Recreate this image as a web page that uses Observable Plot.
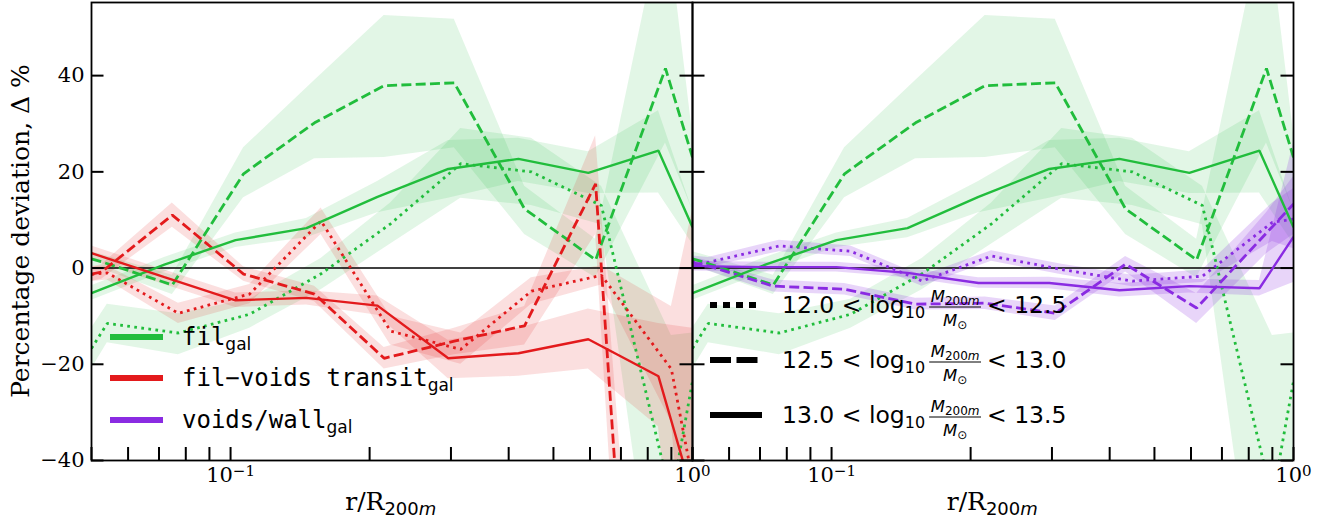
<!DOCTYPE html>
<html>
<head>
<meta charset="utf-8">
<script src="https://cdn.jsdelivr.net/npm/d3@7"></script>
<script src="https://cdn.jsdelivr.net/npm/@observablehq/plot@0.6"></script>
<style>
  body { margin: 0; background: #fff; }
  #chart { position: relative; width: 1332px; height: 521px; }
</style>
</head>
<body>
<div id="chart"></div>
<script>
// ---- x positions (r / R200m) of each mass bin ----
const xSolid  = [0.05, 0.0719, 0.1025, 0.146, 0.208, 0.296, 0.420, 0.595, 0.844, 1.0];
const xDashed = [0.05, 0.0526, 0.0748, 0.1067, 0.152, 0.215, 0.305, 0.433, 0.617, 0.874, 1.0];
const xDotted = [0.05, 0.0541, 0.0771, 0.110, 0.157, 0.222, 0.315, 0.448, 0.635, 0.900, 1.0];
const xDashedTrans = [0.05, 0.0526, 0.0748, 0.1067, 0.152, 0.215, 0.305, 0.433, 0.617, 0.874];

// ---- fil_gal (green) ----
const filSolid    = [-5.2, 0.7, 5.8, 8.3, 14.8, 20.6, 22.7, 19.8, 24.4, 8.5];
const filSolidLo  = [-6.7, -0.8, 4.3, 6.3, 11.5, 14.5, 18, 15.5, 15.6, 5];
const filSolidHi  = [-3.7, 2.2, 7.3, 10.3, 18, 26.5, 27, 24.2, 32.7, 12];
const filDashed   = [1.9, 1.3, -3.5, 19.6, 30.2, 37.9, 38.5, 12.3, 1.7, 41.5, 23];
const filDashedLo = [0.4, -0.2, -5.5, 14.6, 22.7, 23, 25, 7, -2, 26, 12];
const filDashedHi = [3.4, 2.8, -1.5, 25, 39, 52.5, 51.7, 17, 6, 75, 28];
const filDotted   = [-16.7, -11.5, -13.5, -9.6, -1.2, 9.2, 21.7, 20.0, 13.0, -48, -23.5];
const filDottedLo = [-21, -15.5, -18, -12.5, -4.5, 5, 14.5, 13, 9, -95, -80];
const filDottedHi = [-12.5, -7.5, -9.5, -6.5, 2, 13.5, 29, 27, 17, -14, -13.5];

// ---- fil-voids transit_gal (red) ----
const trSolid    = [3.1, -1.9, -6.7, -6.2, -7.8, -18.75, -17.7, -14.8, -22.5, -47];
const trSolidLo  = [1.6, -3.4, -8.2, -7.7, -9.8, -23, -22.5, -21, -33, -100];
const trSolidHi  = [4.6, -0.4, -5.2, -4.7, -5.8, -15, -12.5, -8.5, -11.5, -12.5];
const trDashed   = [-1.25, -0.8, 11.0, -1.25, -5.4, -18.75, -15.2, -12, 17.5, -195];
const trDashedLo = [-2.75, -2.3, 8.5, -2.75, -7, -21, -18, -16, 7, -230];
const trDashedHi = [0.25, 0.7, 13.5, 0.25, -3.8, -16.5, -12.5, -8, 27.5, -160];
const trDotted   = [-1.3, -1.0, -9.4, -5.4, 9.8, -13.1, -16.9, -4.8, -1.5, -21, -44];
const trDottedLo = [-2.8, -2.5, -11.5, -7.4, 7, -16, -20, -7.5, -3.5, -32, -80];
const trDottedHi = [0.2, 0.5, -7.3, -3.4, 12.5, -10, -13.5, -2, 0.5, -8, 12];

// ---- voids/wall_gal (purple) ----
const vwSolid    = [0.4, 0.2, 0.2, -1.0, -3.1, -3.1, -4.6, -3.75, -4.2, 6.5];
const vwSolidLo  = [-0.6, -0.8, -0.8, -2, -4.2, -4.3, -6, -5.2, -5.8, -3];
const vwSolidHi  = [1.4, 1.2, 1.2, 0, -2, -1.9, -3.2, -2.3, -2.6, 26];
const vwDashed   = [1.0, 0.8, -3.75, -4.4, -7.5, -7.3, -9.4, 0.8, -8.3, 7.3, 13.3];
const vwDashedLo = [0, -0.2, -5, -5.6, -8.7, -8.6, -10.9, -0.8, -11.5, 3, 7];
const vwDashedHi = [2, 1.8, -2.5, -3.2, -6.3, -6, -7.9, 2.4, -5.3, 11.5, 19];
const vwDotted   = [1.5, 1.2, 4.6, 3.5, -2.7, 2.5, -0.3, -2.7, -1.7, 9.5, 10.2];
const vwDottedLo = [0.5, 0.2, 3.4, 2.4, -3.8, 1.4, -1.4, -3.9, -3, 5.5, 4];
const vwDottedHi = [2.5, 2.2, 5.8, 4.6, -1.6, 3.6, 0.8, -1.5, -0.4, 13.5, 16.5];

// ---- axis ticks ----
const yTicks = [-40, -20, 0, 20, 40];
const xTicks = [0.05, 0.06, 0.07, 0.08, 0.09, 0.1, 0.2, 0.3, 0.4, 0.5, 0.6, 0.7, 0.8, 0.9, 1.0];
const xTickLabels = [0.1, 1];
const massBins = [["12.0", "12.5", "dotted"], ["12.5", "13.0", "dashed"], ["13.0", "13.5", "solid"]];

const colors = {fil: "#21bd3c", trans: "#e31a1c", void: "#8a2be2"};
const opac = {fil: 0.13, trans: 0.14, void: 0.2};
const dashes = {solid: null, dashed: "10,4.3", dotted: "2.7,4.4"};
const widths = {solid: 2.4, dashed: 2.8, dotted: 2.8};

function rows(panel, group, style, xs, ys, lo, hi) {
  return xs.map((x, i) => ({panel, group, style, key: panel + group + style, x, y: ys[i], lo: lo[i], hi: hi[i]}));
}
const data = [];
for (const p of ["left", "right"]) {
  data.push(...rows(p, "fil", "solid", xSolid, filSolid, filSolidLo, filSolidHi));
  data.push(...rows(p, "fil", "dashed", xDashed, filDashed, filDashedLo, filDashedHi));
  data.push(...rows(p, "fil", "dotted", xDotted, filDotted, filDottedLo, filDottedHi));
}
data.push(...rows("left", "trans", "solid", xSolid, trSolid, trSolidLo, trSolidHi));
data.push(...rows("left", "trans", "dashed", xDashedTrans, trDashed, trDashedLo, trDashedHi));
data.push(...rows("left", "trans", "dotted", xDotted, trDotted, trDottedLo, trDottedHi));
data.push(...rows("right", "void", "solid", xSolid, vwSolid, vwSolidLo, vwSolidHi));
data.push(...rows("right", "void", "dashed", xDashed, vwDashed, vwDashedLo, vwDashedHi));
data.push(...rows("right", "void", "dotted", xDotted, vwDotted, vwDottedLo, vwDottedHi));

const W = 1332, H = 521, ML = 90, MR = 39, MT = 2, MB = 61;
const facetW = (W - ML - MR) / 2, frameH = H - MT - MB, tickLen = 13;

const bandMarks = ["fil", "trans", "void"].map(g =>
  Plot.areaY(data.filter(d => d.group === g), {
    x: "x", y1: "lo", y2: "hi", z: "key", fx: "panel",
    fill: colors[g], fillOpacity: opac[g], clip: true
  }));
const lineMarks = ["dotted", "dashed", "solid"].map(s =>
  Plot.line(data.filter(d => d.style === s), {
    x: "x", y: "y", z: "key", fx: "panel",
    stroke: d => colors[d.group], strokeWidth: widths[s],
    strokeDasharray: dashes[s], strokeLinecap: "butt", strokeLinejoin: "miter", clip: true
  }));

const expo = d => String(Math.round(Math.log10(d))).replace("-", "\u2212");
const svgEl = Plot.plot({
  width: W, height: H, marginLeft: ML, marginRight: MR, marginTop: MT, marginBottom: MB,
  x: {type: "log", domain: [0.05, 1], label: null},
  y: {domain: [-40, 55.2], label: null},
  fx: {domain: ["left", "right"], padding: 0, axis: null, label: null},
  color: {type: "identity"},
  style: {fontFamily: "DejaVu Serif", fontSize: "21px", background: "white", overflow: "visible", color: "black"},
  marks: [
    ...bandMarks,
    Plot.ruleY([0], {stroke: "black", strokeWidth: 1.6}),
    ...lineMarks,
    Plot.frame({stroke: "black", strokeWidth: 1.8}),
    Plot.tickX(xTicks, {x: d => d, insetTop: frameH - tickLen, stroke: "black", strokeWidth: 2}),
    Plot.tickY(yTicks, {y: d => d, insetRight: facetW - tickLen, stroke: "black", strokeWidth: 2}),
    Plot.tickY(yTicks, {y: d => d, insetLeft: facetW - tickLen, stroke: "black", strokeWidth: 2}),
    Plot.axisY({ticks: yTicks, tickSize: 0, tickPadding: 7, fontSize: 21, fontFamily: "DejaVu Serif", label: null, tickFormat: d => d3.format("d")(d)}),
    Plot.axisX({ticks: xTickLabels, tickSize: 0, tickPadding: 7, fontSize: 21, fontFamily: "DejaVu Serif", label: null,
      tickFormat: d => "10^" + expo(d)})
  ]
});
document.getElementById("chart").appendChild(svgEl);

const svg = d3.select(svgEl);
// render the exponent of the x tick labels as a real superscript
svg.selectAll('g[aria-label="x-axis tick label"] text').each(function() {
  const s = this.textContent;
  if (!s.startsWith("10^")) return;
  const e = s.slice(3);
  const t = d3.select(this);
  t.text("10");
  t.append("tspan").attr("dy", "-0.42em").style("font-size", "15px").text(e);
});

// ---- annotations: axis titles and legends (real text) ----
const g = svg.append("g").attr("text-anchor", "start");

g.append("text")
  .attr("transform", "translate(20,231) rotate(-90)")
  .attr("text-anchor", "middle").attr("dominant-baseline", "central")
  .style("font-family", "DejaVu Serif").style("font-size", "25px").attr("fill", "black")
  .text("Percentage deviation, \u0394 %");

for (const cx of [ML + facetW / 2, ML + facetW * 1.5]) {
  const t = g.append("text").attr("x", cx).attr("y", 510).attr("text-anchor", "middle")
    .style("font-family", "DejaVu Serif").style("font-size", "25px").attr("fill", "black");
  t.append("tspan").text("r/R");
  t.append("tspan").attr("dy", 5).style("font-family", "DejaVu Sans").style("font-size", "18px").text("200");
  t.append("tspan").style("font-family", "DejaVu Sans").style("font-style", "italic").style("font-size", "18px").text("m");
}

// left legend: environments
const envLegend = [
  ["fil", "fil", 337],
  ["trans", "fil\u2212voids transit", 378],
  ["void", "voids/wall", 420]
];
for (const [grp, label, y] of envLegend) {
  g.append("line").attr("x1", 110).attr("x2", 163).attr("y1", y).attr("y2", y)
    .attr("stroke", colors[grp]).attr("stroke-width", 6);
  const t = g.append("text").attr("x", 182).attr("y", y + 8).attr("fill", "black").attr("text-anchor", "start")
    .style("font-family", "DejaVu Sans Mono").style("font-size", "24px");
  t.append("tspan").text(label);
  t.append("tspan").attr("dy", 5).style("font-family", "DejaVu Sans").style("font-size", "17px").text("gal");
}

// right legend: halo mass bins
const sampleDash = {dotted: "7,6", dashed: "21,5.5", solid: null};
massBins.forEach(([lo, hi, style], i) => {
  const base = 313 + i * 55;
  g.append("line").attr("x1", 710).attr("x2", 762).attr("y1", base - 8).attr("y2", base - 8)
    .attr("stroke", "black").attr("stroke-width", 6).attr("stroke-dasharray", sampleDash[style]);
  const t = g.append("text").attr("x", 782).attr("y", base).attr("fill", "black").attr("text-anchor", "start")
    .style("font-family", "DejaVu Sans").style("font-size", "23.5px");
  t.append("tspan").text(`${lo} < log`);
  t.append("tspan").attr("dy", 5).style("font-size", "16px").text("10");
  const w = t.node().getComputedTextLength();
  const fx0 = 782 + w + 4;
  const num = g.append("text").attr("y", base - 11).attr("fill", "black").attr("text-anchor", "start").style("font-family", "DejaVu Sans");
  num.append("tspan").style("font-style", "italic").style("font-size", "16.5px").text("M");
  num.append("tspan").attr("dy", 3).style("font-size", "12px").text("200");
  num.append("tspan").style("font-style", "italic").style("font-size", "12px").text("m");
  const den = g.append("text").attr("y", base + 13).attr("fill", "black").attr("text-anchor", "start").style("font-family", "DejaVu Sans");
  den.append("tspan").style("font-style", "italic").style("font-size", "16.5px").text("M");
  den.append("tspan").attr("dy", 3).style("font-size", "12px").text("\u2299");
  const nw = num.node().getComputedTextLength(), dw = den.node().getComputedTextLength();
  const fw = Math.max(nw, dw) + 3;
  num.attr("x", fx0 + (fw - nw) / 2);
  den.attr("x", fx0 + (fw - dw) / 2);
  g.append("line").attr("x1", fx0).attr("x2", fx0 + fw).attr("y1", base - 6).attr("y2", base - 6)
    .attr("stroke", "black").attr("stroke-width", 1);
  g.append("text").attr("x", fx0 + fw + 6).attr("y", base).attr("fill", "black").attr("text-anchor", "start")
    .style("font-family", "DejaVu Sans").style("font-size", "23.5px").text(`< ${hi}`);
});
</script>
</body>
</html>
